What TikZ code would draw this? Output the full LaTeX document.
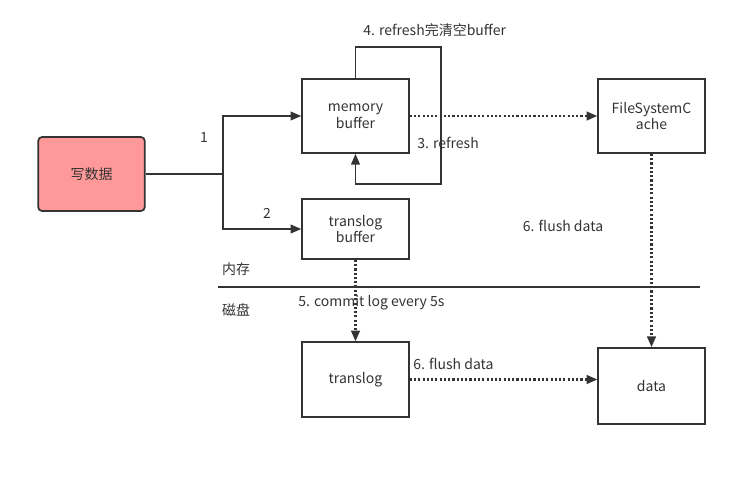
\documentclass[tikz,border=0pt]{standalone}
\usepackage{fontspec}
\setmainfont{Noto Sans CJK SC}
\usetikzlibrary{arrows.meta}
\definecolor{linegray}{HTML}{333333}
\definecolor{writered}{HTML}{FF9999}
\begin{document}
\begin{tikzpicture}[
  x=0.75pt, y=-0.75pt,
  every node/.style={font=\fontsize{10.5}{12.5}\selectfont, text=linegray},
  box/.style={draw=linegray, line width=1.3pt, minimum width=80pt, minimum height=55.5pt, align=center, inner sep=1pt},
  flow/.style={draw=linegray, line width=1.3pt, -{Triangle[length=8pt,width=6.5pt]}},
  dotflow/.style={flow, line width=1.6pt, dash pattern=on 1.6pt off 1.6pt},
  lbl/.style={inner sep=0pt}
]
\useasboundingbox (0,0) rectangle (753,480);
\node[box, fill=writered, rounded corners=3pt] (write) at (91.5,174) {写数据};
\node[box] (mem) at (355.5,116) {memory\\buffer};
\node[box, minimum height=45pt] (tbuf) at (355.5,229) {translog\\buffer};
\node[box] (fsc) at (651.5,116) {FileSystemC\\ache};
\node[box, minimum height=56pt] (tlog) at (355.5,379.5) {translog};
\node[box, minimum height=57pt] (data) at (651.5,386) {data};
\coordinate (split) at (223,174);
\coordinate (looptop) at (441,47);
\coordinate (loopbot) at (441,184);
\draw[linegray, line width=1.3pt] (write.east) -- (split);
\draw[flow] (split) |- (mem.west);
\draw[flow] (split) |- (tbuf.west);
\draw[flow] (mem.north) |- (looptop) -- (loopbot) -| (mem.south);
\draw[dotflow] (mem.east) -- (fsc.west);
\draw[dotflow] (tbuf.south) -- (tlog.north);
\draw[dotflow] (fsc.south) -- (data.north);
\draw[dotflow] (tlog.east) -- (tlog.east -| data.west);
\draw[linegray, line width=1.3pt] (218,287) -- (700,287);
\node[lbl] (n1) at (204,138) {1};
\node[lbl] (n2) at (267,213) {2};
\node[lbl, anchor=west] (refresh) at (417,143) {3. refresh};
\node[lbl, anchor=west] (clear) at (363,30) {4. refresh完清空buffer};
\node[lbl, anchor=west] (commit) at (298,303) {5. commit log every 5s};
\node[lbl] (flushtop) at (563,226) {6. flush data};
\node[lbl, anchor=west] (flushlow) at (413,364) {6. flush data};
\node[lbl] (memzh) at (236,269) {内存};
\node[lbl] (diskzh) at (236,310) {磁盘};
\end{tikzpicture}
\end{document}
